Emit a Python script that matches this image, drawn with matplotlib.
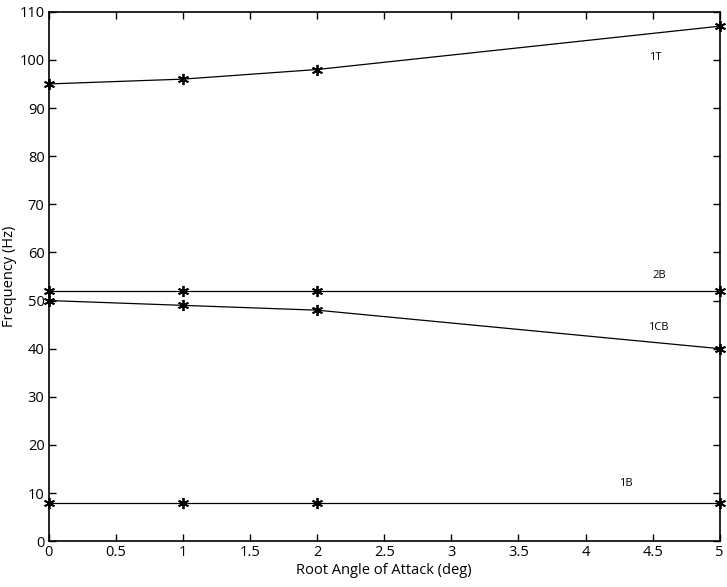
import numpy as np
import matplotlib.pyplot as plt

# root angle of attack (deg)
aoa = [0, 1, 2, 5]

# modal frequencies (Hz)
freq_1T = [95, 96, 98, 107]
freq_2B = [52, 52, 52, 52]
freq_1CB = [50, 49, 48, 40]
freq_1B = [8, 8, 8, 8]

mode_names = ['1T', '2B', '1CB', '1B']
label_pos = [(4.52, 100.5), (4.55, 55.3), (4.54, 44.5), (4.30, 11.9)]

plt.rcParams['font.family'] = ['Open Sans', 'DejaVu Sans']

fig = plt.figure(figsize=(7.27, 5.87), dpi=100)
ax = fig.add_axes([0.067, 0.078, 0.923, 0.902])

for f in [freq_1T, freq_2B, freq_1CB, freq_1B]:
	ax.plot(aoa, f, color='black', lw=0.9, marker=(6, 2, 0), ms=8, mew=1.3,
			mec='black', mfc='black', clip_on=False)

for name, (x, y) in zip(mode_names, label_pos):
	ax.text(x, y, name, fontsize=8, ha='center', va='center')

ax.set_xlim(0, 5)
ax.set_ylim(0, 110)
ax.set_xticks(np.arange(0, 5.01, 0.5))
ax.set_xticklabels(['0', '0.5', '1', '1.5', '2', '2.5', '3', '3.5', '4', '4.5', '5'])
ax.set_yticks(np.arange(0, 111, 10))
ax.tick_params(direction='in', top=True, right=True, labelsize=10.5, length=5, width=1, pad=3)
for s in ax.spines.values():
	s.set_linewidth(1.2)

ax.set_xlabel('Root Angle of Attack (deg)', fontsize=10.5, labelpad=2)
ax.set_ylabel('Frequency (Hz)', fontsize=10.5, labelpad=2)

fig.savefig('out.png', dpi=100)
